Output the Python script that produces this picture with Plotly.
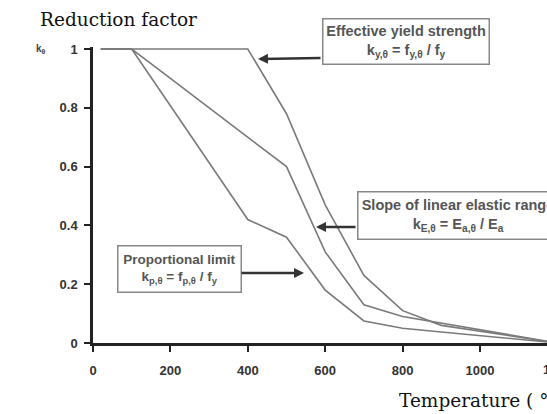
import plotly.graph_objects as go

# Data (Eurocode 3 reduction factors for carbon steel at elevated temperature)
temperature = [20, 100, 200, 300, 400, 500, 600, 700, 800, 900, 1000, 1100, 1200]
k_yield = [1.0, 1.0, 1.0, 1.0, 1.0, 0.78, 0.47, 0.23, 0.11, 0.06, 0.04, 0.02, 0.0]
k_elastic = [1.0, 1.0, 0.9, 0.8, 0.7, 0.6, 0.31, 0.13, 0.09, 0.0675, 0.045, 0.0225, 0.0]
k_prop = [1.0, 1.0, 0.807, 0.613, 0.42, 0.36, 0.18, 0.075, 0.05, 0.0375, 0.025, 0.0125, 0.0]
x_ticks = [0, 200, 400, 600, 800, 1000]
y_ticks = [0, 0.2, 0.4, 0.6, 0.8, 1.0]

W, H = 547, 414
L, R, T, B = 93, 0, 47, 71
pw, ph = W - L - R, H - T - B

def px(xp):
    return (xp - L) / pw

def py(yp):
    return (H - B - yp) / ph

fig = go.Figure()
line_style = dict(color="#7a7a7a", width=1.6)
for name, ys in [("Effective yield strength", k_yield),
                 ("Slope of linear elastic range", k_elastic),
                 ("Proportional limit", k_prop)]:
    fig.add_trace(go.Scatter(x=temperature, y=ys, mode="lines", line=line_style,
                             name=name, showlegend=False, hoverinfo="skip"))

tickfont = dict(family="Liberation Sans, Arial", size=13, color="#333333", weight="bold")

fig.update_layout(
    width=W, height=H,
    margin=dict(l=L, r=R, t=T, b=B, pad=0),
    paper_bgcolor="white", plot_bgcolor="white",
    xaxis=dict(range=[0, pw / 0.387], tickvals=x_ticks, ticks="outside", ticklen=6,
               tickwidth=2, tickcolor="#222", showline=True, linecolor="#222",
               linewidth=2.5, showgrid=False, zeroline=False,
               tickfont=tickfont, ticklabelstandoff=8),
    yaxis=dict(range=[0, 1.007], tickvals=y_ticks, ticks="outside", ticklen=6,
               tickwidth=2, tickcolor="#222", showline=True, linecolor="#222",
               linewidth=2.5, showgrid=False, zeroline=False,
               tickfont=tickfont, ticklabelstandoff=4),
)

serif = dict(family="DejaVu Serif", size=18.5, color="#111111")
box_font = dict(family="Liberation Sans, Arial", size=14.5, color="#555555", weight="bold")
box_font_small = dict(family="Liberation Sans, Arial", size=13.5, color="#555555", weight="bold")

annotations = [
    dict(text="Reduction factor", xref="paper", yref="paper", x=px(38), y=py(19),
         xanchor="left", yanchor="middle", showarrow=False, font=serif),
    dict(text="Temperature ( °C)", xref="paper", yref="paper", x=px(397), y=py(400),
         xanchor="left", yanchor="middle", showarrow=False, font=serif),
    dict(text="k<sub>θ</sub>", xref="paper", yref="paper", x=px(34), y=py(49),
         xanchor="left", yanchor="middle", showarrow=False,
         font=dict(family="Liberation Sans, Arial", size=10, color="#444", weight="bold")),
    dict(text="1200", xref="paper", yref="paper", x=px(557), y=py(369),
         xanchor="center", yanchor="middle", showarrow=False, font=tickfont),
    # Boxes
    dict(text="Effective yield strength<br>k<sub>y,θ</sub> = f<sub>y,θ</sub> / f<sub>y</sub>",
         xref="paper", yref="paper", x=px(322), y=py(18), xanchor="left", yanchor="top",
         showarrow=False, font=box_font, bordercolor="#888", borderwidth=1.5,
         borderpad=1, width=163, height=42, bgcolor="white"),
    dict(text="Slope of linear elastic range<br>k<sub>E,θ</sub> = E<sub>a,θ</sub> / E<sub>a</sub>",
         xref="paper", yref="paper", x=px(357), y=py(191), xanchor="left", yanchor="top",
         showarrow=False, font=box_font, bordercolor="#888", borderwidth=1.5,
         borderpad=1, width=197, height=44, bgcolor="white"),
    dict(text="Proportional limit<br>k<sub>p,θ</sub> = f<sub>p,θ</sub> / f<sub>y</sub>",
         xref="paper", yref="paper", x=px(117), y=py(245), xanchor="left", yanchor="top",
         showarrow=False, font=box_font_small, bordercolor="#888", borderwidth=1.5,
         borderpad=1, width=120, height=43, bgcolor="white"),
]

def arrow(tail_px, head_px):
    return dict(text="", xref="paper", yref="paper", axref="pixel", ayref="pixel",
                x=px(head_px[0]), y=py(head_px[1]),
                ax=tail_px[0] - head_px[0], ay=tail_px[1] - head_px[1],
                showarrow=True, arrowhead=2, arrowsize=0.8, arrowwidth=2.5,
                arrowcolor="#333333", standoff=0)

annotations += [
    arrow((322, 58), (258, 59)),
    arrow((357, 227), (316, 227)),
    arrow((240, 273), (304, 273)),
]

fig.update_layout(annotations=annotations)
fig.write_html("out.html")
